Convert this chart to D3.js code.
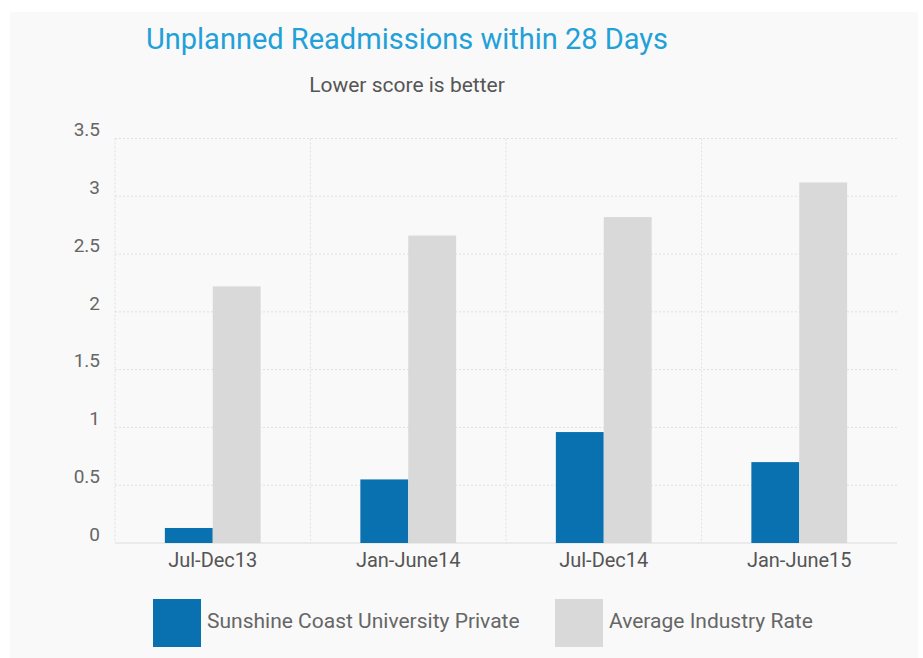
<!DOCTYPE html>
<html>
<head>
<meta charset="utf-8">
<script src="https://cdn.jsdelivr.net/npm/d3@7"></script>
<style>
  html, body { margin: 0; padding: 0; background: #ffffff; }
  svg { display: block; font-family: Roboto, "Noto Sans", sans-serif; }
</style>
</head>
<body>
<svg id="chart" width="923" height="658"></svg>
<script>
const categories = ["Jul-Dec13", "Jan-June14", "Jul-Dec14", "Jan-June15"];
const seriesNames = ["Sunshine Coast University Private", "Average Industry Rate"];
const sunshineValues = [0.13, 0.55, 0.96, 0.70];
const industryValues = [2.22, 2.66, 2.82, 3.12];
const yTicks = [0, 0.5, 1, 1.5, 2, 2.5, 3, 3.5];
const colors = ["#0a71b1", "#d9d9d9"];

const svg = d3.select("#chart");
const W = 923, H = 658;
const margin = { left: 115, right: 26, top: 138.5, bottom: 115 };
const plotL = margin.left, plotR = W - margin.right, plotT = margin.top, plotB = H - margin.bottom;

// panel background
svg.append("rect").attr("x", 10).attr("y", 12).attr("width", 908).attr("height", 646).attr("fill", "#f9f9f9");

const x0 = d3.scaleBand().domain(categories).range([plotL, plotR]).padding(0);
const bw = x0.bandwidth();
const x1 = d3.scaleBand().domain(seriesNames).range([bw * 0.255, bw * 0.745]).padding(0);
const y = d3.scaleLinear().domain([0, 3.5]).range([plotB, plotT]);

// horizontal grid
svg.append("g").selectAll("line").data(yTicks).join("line")
  .attr("x1", plotL).attr("x2", plotR)
  .attr("y1", d => y(d)).attr("y2", d => y(d))
  .attr("stroke", d => d === 0 ? "#dcdcdc" : "#e0e0e0")
  .attr("stroke-width", 1)
  .attr("stroke-dasharray", d => d === 0 ? null : "2,2");

// vertical grid at band boundaries
const vb = categories.map(c => x0(c));
svg.append("g").selectAll("line").data(vb).join("line")
  .attr("x1", d => d).attr("x2", d => d)
  .attr("y1", plotT).attr("y2", plotB)
  .attr("stroke", "#e0e0e0").attr("stroke-dasharray", "2,2");

// y axis labels
const yAxis = d3.axisLeft(y).tickValues(yTicks).tickSize(0).tickPadding(0).tickFormat(d3.format("~g"));
const ya = svg.append("g").attr("transform", `translate(${plotL - 15},0)`).call(yAxis);
ya.select(".domain").remove();
ya.selectAll("text").attr("font-size", 19).attr("fill", "#666").attr("dy", "-0.15em")
  .attr("font-family", "Roboto, sans-serif");

// bars
const seriesData = [sunshineValues, industryValues];
const groups = svg.append("g").selectAll("g").data(categories).join("g")
  .attr("transform", d => `translate(${x0(d)},0)`);
groups.selectAll("rect").data((c, i) => seriesNames.map((s, j) => ({ s, v: seriesData[j][i], j })))
  .join("rect")
  .attr("x", d => x1(d.s))
  .attr("width", x1.bandwidth())
  .attr("y", d => y(d.v))
  .attr("height", d => y(0) - y(d.v))
  .attr("fill", d => colors[d.j]);

// x axis labels
const xAxis = d3.axisBottom(x0).tickSize(0).tickPadding(0);
const xa = svg.append("g").attr("transform", `translate(0,${plotB + 9})`).call(xAxis);
xa.select(".domain").remove();
xa.selectAll("text").attr("font-size", 20).attr("fill", "#555").attr("dy", "0.75em")
  .attr("font-family", "Roboto, sans-serif");

// title and subtitle
svg.append("text").attr("x", 407).attr("y", 49).attr("text-anchor", "middle")
  .attr("font-size", 29).attr("fill", "#22a0d8").text("Unplanned Readmissions within 28 Days");
svg.append("text").attr("x", 407).attr("y", 92).attr("text-anchor", "middle")
  .attr("font-size", 21).attr("fill", "#555").text("Lower score is better");

// legend
const legendX = [153, 555];
const lg = svg.append("g").selectAll("g").data(seriesNames).join("g")
  .attr("transform", (d, i) => `translate(${legendX[i]},599)`);
lg.append("rect").attr("width", 48).attr("height", 48).attr("fill", (d, i) => colors[i]);
lg.append("text").attr("x", 54).attr("y", 29)
  .attr("font-size", 21).attr("fill", "#666").text(d => d);
</script>
</body>
</html>
